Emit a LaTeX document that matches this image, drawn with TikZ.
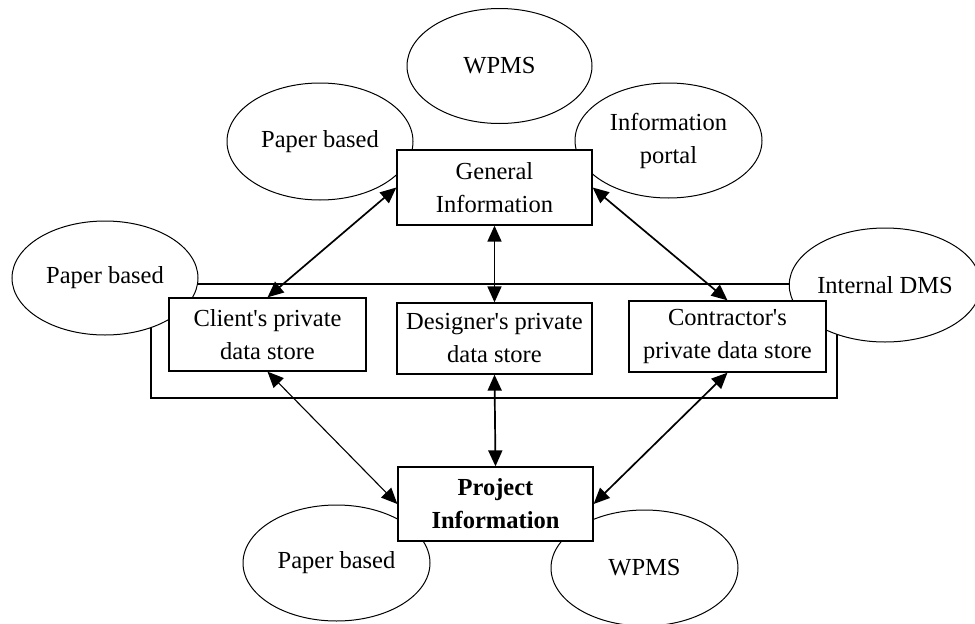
\documentclass[tikz,border=0pt]{standalone}
\usepackage{fontspec}
\setmainfont{Liberation Serif}[Ligatures=TeXOff]
\usetikzlibrary{shapes.geometric,arrows.meta}

\begin{document}
\begin{tikzpicture}[x=1pt,y=-1pt,
  every node/.style={font=\fontsize{24.5}{33}\selectfont},
  blob/.style={ellipse,draw,line width=1pt,fill=white,inner sep=0pt,align=center},
  store/.style={rectangle,draw,line width=1.3pt,fill=white,inner sep=0pt,align=center},
  link/.style={line width=1.7pt,{Triangle[length=16pt,width=14pt]}-{Triangle[length=16pt,width=14pt]}},
  thinlink/.style={line width=1.1pt,{Triangle[length=16pt,width=14pt]}-{Triangle[length=16pt,width=14pt]}}]

\useasboundingbox (0,0) rectangle (975,624);

% enclosing frame around the private data stores
\draw[line width=1.2pt] (151,284) rectangle (837,398);

% data sources
\node[blob,minimum width=185pt,minimum height=115pt] (wpmsTop) at (499.5,66) {WPMS};
\node[blob,minimum width=186pt,minimum height=117pt] (paperTop) at (320,141.5) {Paper based};
\node[blob,minimum width=187pt,minimum height=115pt] (portal) at (668.5,140.5) {Information\\portal};
\node[blob,minimum width=186pt,minimum height=114pt] (paperLeft) at (105,278) {Paper based};
\node[blob,minimum width=176pt,minimum height=114pt] (dms) at (885,285) {Internal DMS};
\node[blob,minimum width=187pt,minimum height=116pt] (paperBot) at (336.5,563) {Paper based};
\node[blob,minimum width=187pt,minimum height=116pt] (wpmsBot) at (644.5,568) {WPMS};

% information stores
\node[store,minimum width=195pt,minimum height=75pt] (gen) at (494.5,187.5) {General\\Information};
\node[store,minimum width=197pt,minimum height=73pt] (client) at (267.5,334.5) {Client's private\\data store};
\node[store,minimum width=195pt,minimum height=71pt] (des) at (494.5,338.5) {Designer's private\\data store};
\node[store,minimum width=197pt,minimum height=71pt] (contr) at (727.5,336.5) {Contractor's\\private data store};
\node[store,minimum width=195pt,minimum height=74pt,font=\fontsize{24.5}{33}\selectfont\bfseries] (proj) at (495.5,504) {Project\\Information};

% exchanges
\draw[link] (client.north) -- (gen.west);
\draw[link] (gen.east) -- (contr.north);
\draw[link] (gen.south) -- (des.north);
\draw[link] (des.south) -- (proj.north);
\draw[thinlink] (client.south) -- (proj.west);
\draw[link] (contr.south) -- (proj.east);

\end{tikzpicture}
\end{document}
